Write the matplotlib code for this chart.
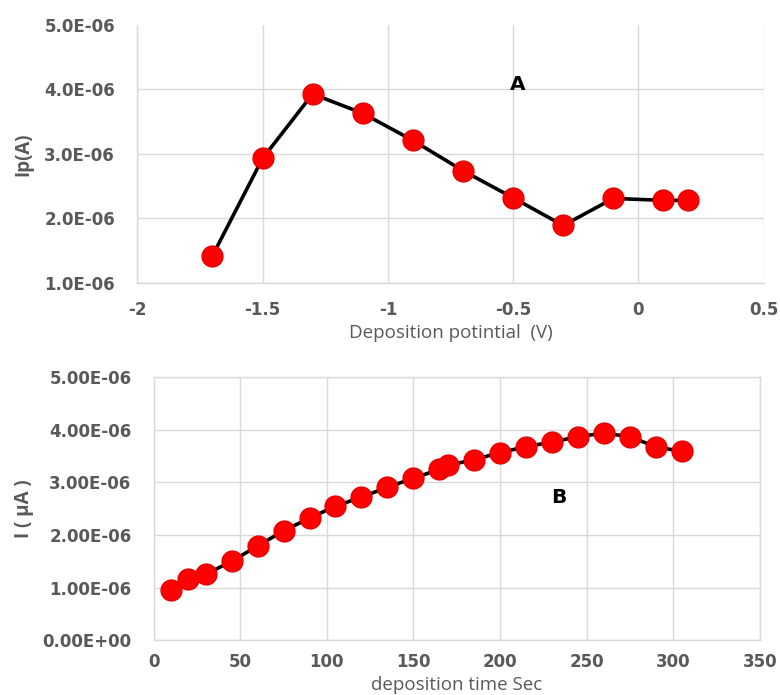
import matplotlib
matplotlib.use("Agg")
import matplotlib.pyplot as plt

# panel A: peak current vs deposition potential
potential = [-1.7, -1.5, -1.3, -1.1, -0.9, -0.7, -0.5, -0.3, -0.1, 0.1, 0.2]
ip_a = [1.42e-6, 2.93e-6, 3.93e-6, 3.63e-6, 3.21e-6, 2.74e-6,
        2.32e-6, 1.89e-6, 2.31e-6, 2.28e-6, 2.28e-6]
ticks_a_x = [-2, -1.5, -1, -0.5, 0, 0.5]
ticks_a_y = [1e-6, 2e-6, 3e-6, 4e-6, 5e-6]

# panel B: current vs deposition time
dep_time = [10, 20, 30, 45, 60, 75, 90, 105, 120, 135, 150, 165, 170,
            185, 200, 215, 230, 245, 260, 275, 290, 305]
ip_b = [0.95e-6, 1.17e-6, 1.25e-6, 1.50e-6, 1.79e-6, 2.08e-6, 2.32e-6,
        2.55e-6, 2.72e-6, 2.91e-6, 3.08e-6, 3.25e-6, 3.33e-6, 3.43e-6,
        3.57e-6, 3.68e-6, 3.77e-6, 3.87e-6, 3.94e-6, 3.87e-6, 3.68e-6, 3.59e-6]
ticks_b_x = [0, 50, 100, 150, 200, 250, 300, 350]
ticks_b_y = [0, 1e-6, 2e-6, 3e-6, 4e-6, 5e-6]

grey = "#595959"
grid = "#d9d9d9"
ytick_font = dict(family="DejaVu Sans", weight="bold", size=12, color=grey)
xtick_font = dict(family="DejaVu Sans", weight="bold", size=12, color=grey)
label_font = dict(family="Open Sans", size=13.5, color=grey)

fig = plt.figure(figsize=(7.8, 6.95), dpi=100)
ax1 = fig.add_axes([0.176, 0.593, 0.803, 0.371])
ax2 = fig.add_axes([0.197, 0.079, 0.777, 0.378])


def sci(v, digits):
    mant, exp = f"{v:.{digits}E}".split("E")
    return f"{mant}E{exp[0]}{abs(int(exp)):02d}"


def style(ax, xt, yt, digits, xpad):
    ax.set_xticks(xt)
    ax.set_yticks(yt)
    ax.set_xticklabels([f"{v:g}" for v in xt], fontdict=xtick_font)
    ax.set_yticklabels([sci(v, digits) for v in yt], fontdict=ytick_font)
    ax.set_xlim(xt[0], xt[-1])
    ax.set_ylim(yt[0], yt[-1])
    ax.grid(True, color=grid, linewidth=1)
    ax.set_axisbelow(True)
    ax.tick_params(axis="y", length=0, pad=16)
    ax.tick_params(axis="x", length=0, pad=xpad)
    for s in ax.spines.values():
        s.set_color(grid)
        s.set_linewidth(1)


def draw_series(ax, x, y):
    ax.plot(x, y, color="black", linewidth=2.6, marker="o",
            markersize=15, markerfacecolor="#ff0000",
            markeredgecolor="#e80000", clip_on=False, zorder=3)


style(ax1, ticks_a_x, ticks_a_y, 1, 13)
ax1.spines["top"].set_visible(False)
ax1.spines["right"].set_visible(False)
ax1.get_ygridlines()[-1].set_visible(False)
draw_series(ax1, potential, ip_a)
ax1.set_xlabel("Deposition potintial  (V)", **label_font)
ax1.xaxis.set_label_coords(0.5, -0.16)
ax1.set_ylabel("Ip(A)", weight="bold", **label_font)
ax1.yaxis.set_label_coords(-0.166, 0.5)
ax1.text(-0.48, 4.07e-6, "A", family="DejaVu Sans", weight="bold", size=14.5,
         color="black", ha="center", va="center")

style(ax2, ticks_b_x, ticks_b_y, 2, 9)
draw_series(ax2, dep_time, ip_b)
ax2.set_xlabel("deposition time Sec", **label_font)
ax2.xaxis.set_label_coords(0.5, -0.135)
ax2.set_ylabel("I ( µA )", weight="bold", **label_font)
ax2.yaxis.set_label_coords(-0.197, 0.5)
ax2.text(234, 2.72e-6, "B", family="DejaVu Sans", weight="bold", size=14.5,
         color="black", ha="center", va="center")

fig.savefig("out.png", dpi=100, facecolor="white")
